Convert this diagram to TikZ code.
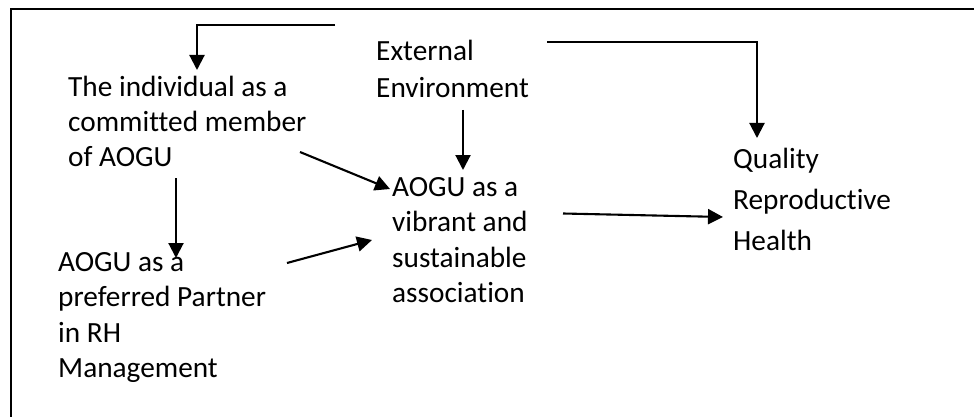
\documentclass[tikz,border=0pt]{standalone}
\usepackage{fontspec}
\setmainfont[Ligatures=CommonOff]{Carlito}
\usetikzlibrary{arrows.meta}
\begin{document}
\begin{tikzpicture}[x=1pt,y=-1pt,
  txt/.style={anchor=north west, inner sep=0pt, align=left,
    font=\fontsize{29.3}{#1}\selectfont, execute at begin node=\strut},
  txt/.default=35.5,
  arr/.style={line width=2.1pt, -{Triangle[length=15pt,width=15pt]}},
  frame/.style={line width=1.5pt}]
\useasboundingbox (0,0) rectangle (974,417);
\clip (0,0) rectangle (974,417);
\draw[frame] (11,9) rectangle (1000,440);

\node[txt=35] (indiv) at (68,75.5) {The individual as a\\committed member\\of AOGU};
\node[txt=37] (ext) at (376,40.1) {External\\Environment};
\node[txt] (centre) at (392,177.15) {AOGU as a\\vibrant and\\sustainable\\association};
\node[txt=41] (quality) at (733,148.3) {Quality\\Reproductive\\Health};
\node[txt] (partner) at (58,252.15) {AOGU as a\\preferred Partner\\in RH\\Management};

\draw[arr] ([shift={(-41,-15.1)}]ext.north west) -| ([shift={(129,-5.5)}]indiv.north west);
\draw[arr] ([shift={(87,69.9)}]ext.north west) -- ([shift={(71,-7.15)}]centre.north west);
\draw[arr] ([shift={(171,1.9)}]ext.north west) -| ([shift={(24,-10.3)}]quality.north west);
\draw[arr] ([shift={(232,76.5)}]indiv.north west) -- ([shift={(-2,11.85)}]centre.north west);
\draw[arr] ([shift={(229,10.85)}]partner.north west) -- ([shift={(-20,62.85)}]centre.north west);
\draw[arr] ([shift={(108,102.5)}]indiv.north west) -- ([shift={(118,5.85)}]partner.north west);
\draw[arr] ([shift={(171,36.35)}]centre.north west) -- ([shift={(-10,68.7)}]quality.north west);
\end{tikzpicture}
\end{document}
